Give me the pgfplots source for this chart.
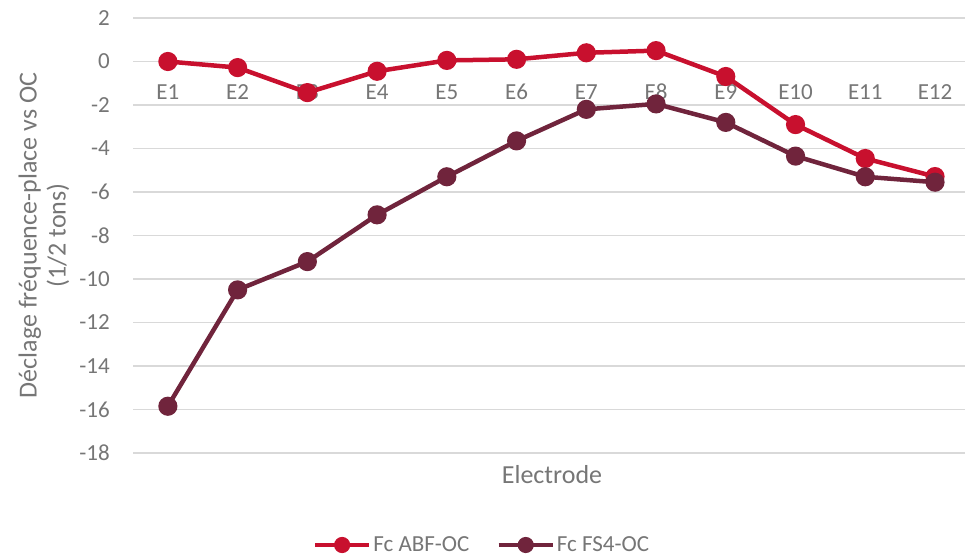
\documentclass[border=0pt]{standalone}
\usepackage{pgfplots}
\pgfplotsset{compat=1.18}
\usepackage{fontspec}
\setmainfont{Carlito}
\definecolor{abf}{RGB}{200,16,46}
\definecolor{fs4}{RGB}{112,36,60}
\definecolor{txt}{RGB}{118,118,118}
\definecolor{grd}{RGB}{217,217,217}
\begin{document}
\begin{tikzpicture}
\useasboundingbox (0,0) rectangle (965pt,556pt);
\begin{axis}[
  at={(133pt,103pt)}, anchor=south west,
  scale only axis, width=832pt, height=435pt,
  xmin=0.5, xmax=12.43, ymin=-18, ymax=2,
  ytick={-18,-16,...,2},
  xtick={1,...,12},
  xticklabels={E1,E2,E3,E4,E5,E6,E7,E8,E9,E10,E11,E12},
  axis line style={draw=none},
  major tick length=0pt,
  ymajorgrids,
  major grid style={grd, line width=1.3pt},
  /pgf/number format/assume math mode=true,
  tick label style={font=\fontsize{23}{27}\selectfont, text=txt},
  yticklabel style={anchor=east, inner sep=0pt, xshift=-23pt},
  xticklabel style={anchor=base, inner sep=0pt, yshift=353pt},
  xlabel={Electrode},
  xlabel style={at={(axis description cs:0.5036,-0.0506)}, anchor=center, font=\fontsize{26}{30}\selectfont, text=txt},
  ylabel={Déclage fréquence-place vs OC\\(1/2 tons)},
  ylabel style={at={(axis description cs:-0.107,0.5)}, anchor=center, align=center, font=\fontsize{26}{29}\selectfont, text=txt},
  legend columns=2,
  legend style={at={(axis description cs:0.4195,-0.2115)}, anchor=center, draw=none, fill=none,
    font=\fontsize{23}{27}\selectfont, text=txt,
    /tikz/every even column/.append style={column sep=25pt}},
  legend image code/.code={\draw[mark repeat=2,mark phase=2,#1,mark size=5.8pt] plot coordinates {(0pt,0pt) (27pt,0pt) (54pt,0pt)};},
]
\addplot[abf, line width=4.5pt, mark=*, mark size=7.3pt, mark options={solid, fill=abf, draw=none}]
  coordinates {(1,0) (2,-0.28) (3,-1.43) (4,-0.45) (5,0.05) (6,0.1) (7,0.4) (8,0.5) (9,-0.69) (10,-2.9) (11,-4.46) (12,-5.29)};
\addlegendentry{Fc ABF-OC}
\addplot[fs4, line width=4.5pt, mark=*, mark size=7.3pt, mark options={solid, fill=fs4, draw=none}]
  coordinates {(1,-15.85) (2,-10.5) (3,-9.2) (4,-7.05) (5,-5.3) (6,-3.65) (7,-2.2) (8,-1.95) (9,-2.8) (10,-4.35) (11,-5.3) (12,-5.55)};
\addlegendentry{Fc FS4-OC}
\end{axis}
\end{tikzpicture}
\end{document}
